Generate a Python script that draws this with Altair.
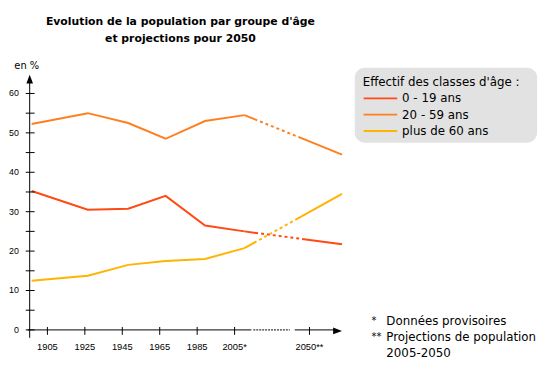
import altair as alt
import pandas as pd

FONT = "DejaVu Sans"
NUM_FONT = "Liberation Sans"

# ---- data ----
groups = ["0 - 19 ans", "20 - 59 ans", "plus de 60 ans"]
colors = ["#ff4a14", "#ff7f1f", "#ffb400"]
years = [1905, 1925, 1945, 1965, 1985, 2005, 2050]
v_0_19 = [35.25, 30.5, 30.75, 34.0, 26.5, 25.0, 21.75]
v_20_59 = [52.25, 55.0, 52.5, 48.5, 53.0, 54.5, 44.5]
v_60p = [12.5, 13.75, 16.5, 17.5, 18.0, 20.75, 34.5]

tick_years = [1905, 1925, 1945, 1965, 1985, 2005, 2050]
tick_labels = ["1905", "1925", "1945", "1965", "1985", "2005*", "2050**"]
y_ticks = [0, 5, 10, 15, 20, 25, 30, 35, 40, 45, 50, 55, 60]
y_labels = [0, 10, 20, 30, 40, 50, 60]

title_lines = ["Evolution de la population par groupe d'âge", "et projections pour 2050"]
legend_title = "Effectif des classes d'âge :"
y_unit = "en %"
notes = [("*", "Données provisoires"), ("**", "Projections de population"), ("", "2005-2050")]

# ---- tables ----
rows = []
for g, vals in zip(groups, [v_0_19, v_20_59, v_60p]):
    for yr, v in zip(years, vals):
        rows.append({"year": yr, "group": g, "value": v})
df = pd.DataFrame(rows)
hist = df[df.year <= 2005]
proj = df[df.year >= 2005]
one = pd.DataFrame({"a": [0]})

# ---- scales ----
x_data = alt.Scale(domain=years, range=[24, 81, 122, 160, 200, 240, 339], zero=False, nice=False)
x_axis = alt.Scale(domain=[1905, 2005, 2050], range=[40, 230, 306], zero=False, nice=False)
y_sc = alt.Scale(domain=[0, 60], range=[324, 84], zero=False, nice=False)
col_sc = alt.Scale(domain=groups, range=colors)

layers = []

# data lines
layers.append(
    alt.Chart(hist).mark_line(strokeWidth=2).encode(
        x=alt.X("year:Q", scale=x_data, axis=None),
        y=alt.Y("value:Q", scale=y_sc, axis=None),
        color=alt.Color("group:N", scale=col_sc, legend=None),
    )
)
dash = [14, 3] + [3, 3] * 7 + [300, 1]
layers.append(
    alt.Chart(proj).mark_line(strokeWidth=2, strokeDash=dash).encode(
        x=alt.X("year:Q", scale=x_data, axis=None),
        y=alt.Y("value:Q", scale=y_sc, axis=None),
        color=alt.Color("group:N", scale=col_sc, legend=None),
    )
)

# y axis
layers.append(alt.Chart(one).mark_rule(color="black", strokeWidth=1).encode(
    x=alt.value(22), y=alt.value(70), y2=alt.value(332)))
layers.append(alt.Chart(one).mark_point(
    shape="M0,-1L-0.75,1L0.75,1Z", size=81, filled=True, color="black", opacity=1, strokeWidth=0
).encode(x=alt.value(22), y=alt.value(69.5)))
layers.append(alt.Chart(pd.DataFrame({"v": y_ticks})).mark_rule(color="black").encode(
    y=alt.Y("v:Q", scale=y_sc, axis=None), x=alt.value(18), x2=alt.value(27)))
layers.append(alt.Chart(pd.DataFrame({"v": y_labels})).mark_text(
    align="right", baseline="middle", font=NUM_FONT, fontSize=9, color="black"
).encode(y=alt.Y("v:Q", scale=y_sc, axis=None), x=alt.value(11), text="v:Q"))
layers.append(alt.Chart(one).mark_text(
    align="center", baseline="middle", font=FONT, fontSize=10, color="black"
).encode(x=alt.value(19), y=alt.value(56), text=alt.value(y_unit)))

# x axis
layers.append(alt.Chart(one).mark_rule(color="black").encode(
    x=alt.value(20), x2=alt.value(247), y=alt.datum(0, scale=y_sc)))
layers.append(alt.Chart(one).mark_rule(color="black", strokeDash=[2, 1]).encode(
    x=alt.value(249), x2=alt.value(286), y=alt.datum(0, scale=y_sc)))
layers.append(alt.Chart(one).mark_rule(color="black").encode(
    x=alt.value(291), x2=alt.value(332), y=alt.datum(0, scale=y_sc)))
layers.append(alt.Chart(one).mark_point(
    shape="M1,0L-1,-0.75L-1,0.75Z", size=81, filled=True, color="black", opacity=1, strokeWidth=0
).encode(x=alt.value(334.5), y=alt.value(325)))
xt = pd.DataFrame({"year": tick_years, "label": tick_labels})
layers.append(alt.Chart(xt).mark_rule(color="black").encode(
    x=alt.X("year:Q", scale=x_axis, axis=None), y=alt.value(321), y2=alt.value(329)))
layers.append(alt.Chart(xt).mark_text(
    align="center", baseline="middle", font=NUM_FONT, fontSize=9.5, color="black"
).encode(x=alt.X("year:Q", scale=x_axis, axis=None), y=alt.value(341), text="label:N"))

# title
for i, line in enumerate(title_lines):
    layers.append(alt.Chart(one).mark_text(
        align="center", baseline="middle", font=FONT, fontSize=11, fontWeight="bold", color="black"
    ).encode(x=alt.value(175), y=alt.value(12 + 17 * i), text=alt.value(line)))

# legend box
layers.append(alt.Chart(one).mark_rect(color="#e2e2e2", cornerRadius=10).encode(
    x=alt.value(352), x2=alt.value(537), y=alt.value(58), y2=alt.value(134)))
layers.append(alt.Chart(one).mark_text(
    align="left", baseline="middle", font=FONT, fontSize=12, color="black"
).encode(x=alt.value(360), y=alt.value(72), text=alt.value(legend_title)))
for i, (g, c) in enumerate(zip(groups, colors)):
    yy = 89 + 16.5 * i
    layers.append(alt.Chart(one).mark_rule(color=c, strokeWidth=2).encode(
        x=alt.value(361), x2=alt.value(395), y=alt.value(yy)))
    layers.append(alt.Chart(one).mark_text(
        align="left", baseline="middle", font=FONT, fontSize=12, color="black"
    ).encode(x=alt.value(400), y=alt.value(yy), text=alt.value(g)))

# footnotes
for i, (mk, txt) in enumerate(notes):
    yy = 315 + 16.5 * i
    if mk:
        layers.append(alt.Chart(one).mark_text(
            align="left", baseline="middle", font=FONT, fontSize=10, color="black"
        ).encode(x=alt.value(369), y=alt.value(yy), text=alt.value(mk)))
    layers.append(alt.Chart(one).mark_text(
        align="left", baseline="middle", font=FONT, fontSize=12, color="black"
    ).encode(x=alt.value(384), y=alt.value(yy), text=alt.value(txt)))

chart = alt.layer(*layers).resolve_scale(x="independent").properties(
    width=542, height=365, autosize=alt.AutoSizeParams(type="none"), padding=0,
    background="white"
).configure_view(stroke=None)

chart.save("out.html", embed_options={"renderer": "svg", "actions": False})
